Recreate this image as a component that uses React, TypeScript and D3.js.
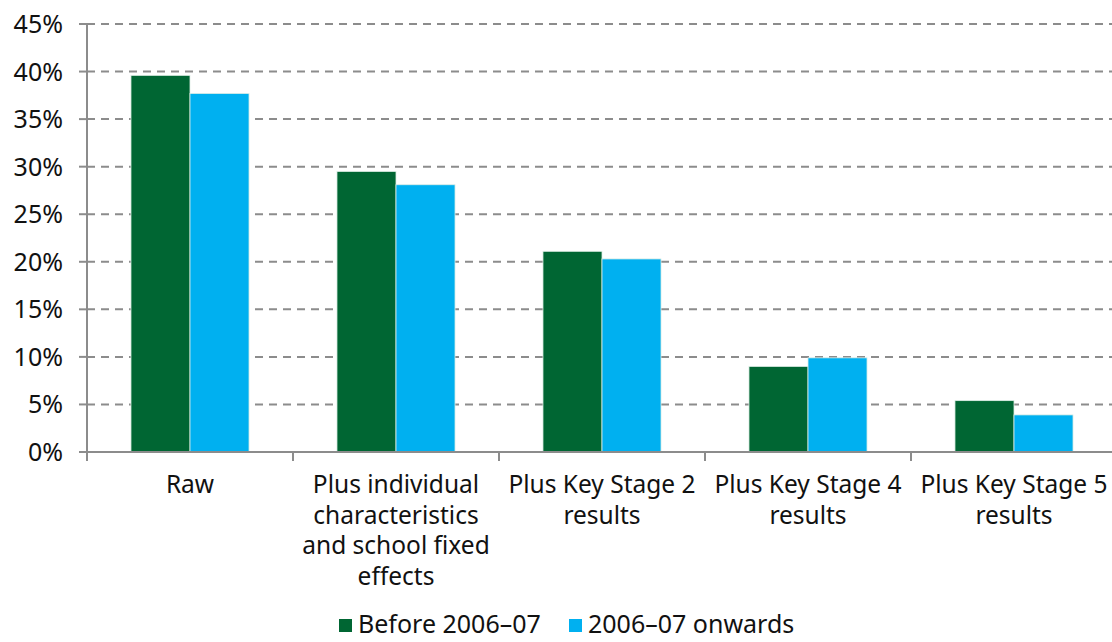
import * as d3 from 'd3'

const categories = [
  ['Raw'],
  ['Plus individual', 'characteristics', 'and school fixed', 'effects'],
  ['Plus Key Stage 2', 'results'],
  ['Plus Key Stage 4', 'results'],
  ['Plus Key Stage 5', 'results'],
]
const seriesNames = ['Before 2006–07', '2006–07 onwards']
const before = [39.6, 29.5, 21.1, 9.0, 5.4]
const onwards = [37.7, 28.1, 20.3, 9.9, 3.9]
const yTicks = [0, 5, 10, 15, 20, 25, 30, 35, 40, 45]
const colors = ['#006633', '#00B0F0']

const width = 1112
const height = 642
const font = '"Noto Sans", "Open Sans", sans-serif'

const App = () => {
  const x0 = 87
  const y = d3.scaleLinear().domain([0, 45]).range([452, 24])
  const x = d3
    .scaleBand()
    .domain(categories.map((_, i) => String(i)))
    .range([x0, x0 + 5 * 206])
  const inner = d3
    .scaleBand()
    .domain(['0', '1'])
    .range([0, x.bandwidth()])
    .paddingOuter(0.745)
    .paddingInner(0)
  const series = [before, onwards]

  return (
    <svg
      width={width}
      height={height}
      style={{ position: 'absolute', left: 0, top: 0, fontFamily: font }}
    >
      <rect width={width} height={height} fill='white' />
      {yTicks.map((t) => (
        <g key={t}>
          {t > 0 && (
            <line
              x1={x0}
              x2={width}
              y1={y(t)}
              y2={y(t)}
              stroke='#8c8c8c'
              strokeWidth={2}
              strokeDasharray='8,6'
            />
          )}
          <line x1={x0 - 8} x2={x0} y1={y(t)} y2={y(t)} stroke='#8c8c8c' strokeWidth={2} />
          <text x={63} y={y(t)} dy='0.36em' textAnchor='end' fontSize={25} fill='#111'>
            {t}%
          </text>
        </g>
      ))}
      {series.map((vals, s) =>
        vals.map((v, i) => (
          <rect
            key={`${s}-${i}`}
            x={(x(String(i)) || 0) + (inner(String(s)) || 0)}
            y={y(v)}
            width={inner.bandwidth()}
            height={y(0) - y(v)}
            fill={colors[s]}
            stroke='#dfeee6'
            strokeWidth={0.8}
          />
        ))
      )}
      <line x1={x0} x2={x0} y1={y(45)} y2={y(0) + 9} stroke='#8c8c8c' strokeWidth={2} />
      <line x1={x0} x2={width} y1={y(0)} y2={y(0)} stroke='#8c8c8c' strokeWidth={2} />
      {categories.map((_, i) => (
        <line
          key={i}
          x1={(x(String(i)) || 0) + x.bandwidth()}
          x2={(x(String(i)) || 0) + x.bandwidth()}
          y1={y(0)}
          y2={y(0) + 9}
          stroke='#8c8c8c'
          strokeWidth={2}
        />
      ))}
      {categories.map((lines, i) => (
        <text
          key={i}
          x={(x(String(i)) || 0) + x.bandwidth() / 2}
          y={493}
          textAnchor='middle'
          fontSize={24.5}
          fill='#111'
        >
          {lines.map((l, j) => (
            <tspan key={j} x={(x(String(i)) || 0) + x.bandwidth() / 2} dy={j === 0 ? 0 : 30.6}>
              {l}
            </tspan>
          ))}
        </text>
      ))}
      {seriesNames.map((name, s) => {
        const lx = s === 0 ? 339 : 569
        return (
          <g key={name}>
            <rect x={lx} y={619} width={13} height={13} fill={colors[s]} />
            <text x={lx + 19} y={633} fontSize={25} fill='#111'>
              {name}
            </text>
          </g>
        )
      })}
    </svg>
  )
}

export default App
